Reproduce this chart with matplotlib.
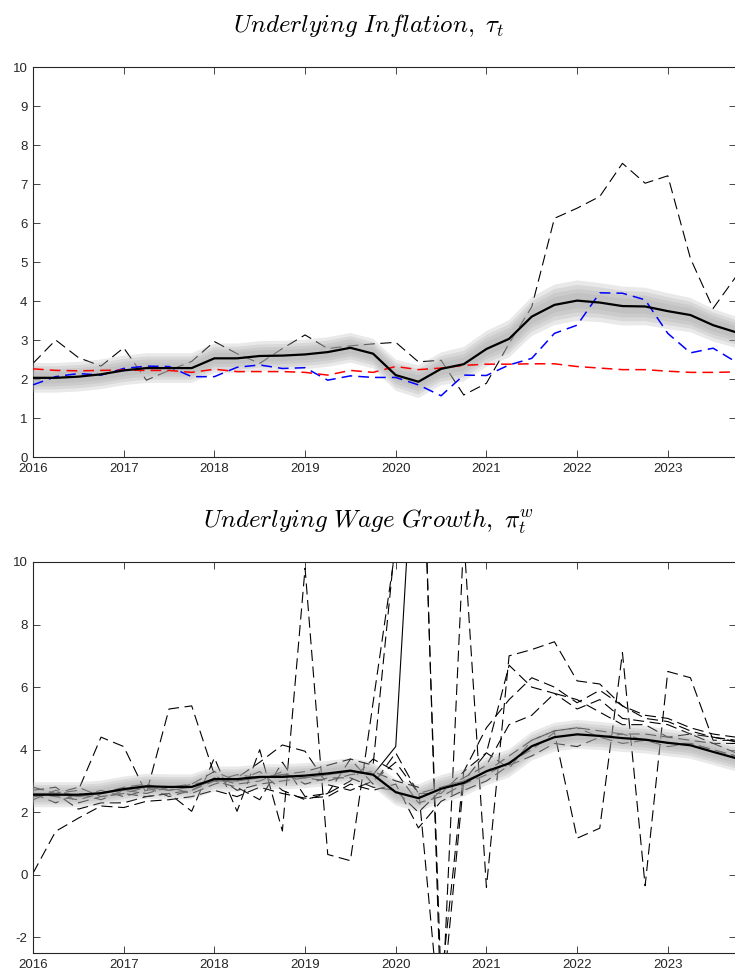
import numpy as np
import matplotlib
matplotlib.use("Agg")
import matplotlib.pyplot as plt

# ---------------- data ----------------
quarters = 2016 + np.arange(32) * 0.25
year_ticks = [2016, 2017, 2018, 2019, 2020, 2021, 2022, 2023]

# Top panel: underlying inflation
tau_median = [2.03, 2.03, 2.06, 2.12, 2.22, 2.28, 2.28, 2.28, 2.53, 2.53, 2.59, 2.60,
              2.63, 2.69, 2.80, 2.65, 2.10, 1.93, 2.26, 2.38, 2.77, 3.03, 3.60, 3.90,
              4.01, 3.96, 3.87, 3.86, 3.74, 3.64, 3.38, 3.20]
tau_spread = [0.38, 0.38, 0.38, 0.38, 0.38, 0.38, 0.38, 0.38, 0.38, 0.38, 0.38, 0.38,
              0.38, 0.38, 0.38, 0.38, 0.40, 0.42, 0.42, 0.44, 0.46, 0.48, 0.50, 0.52,
              0.52, 0.50, 0.50, 0.48, 0.46, 0.44, 0.42, 0.40]
headline_infl = [2.40, 3.00, 2.55, 2.33, 2.80, 1.97, 2.22, 2.45, 2.96, 2.65, 2.40, 2.78,
                 3.13, 2.78, 2.85, 2.90, 2.94, 2.44, 2.48, 1.59, 1.89, 2.91, 3.85, 6.12,
                 6.38, 6.68, 7.53, 7.02, 7.21, 5.09, 3.81, 4.62]
core_infl = [1.85, 2.06, 2.14, 2.10, 2.27, 2.33, 2.32, 2.06, 2.06, 2.30, 2.36, 2.27,
             2.29, 1.97, 2.08, 2.04, 2.04, 1.85, 1.57, 2.10, 2.09, 2.36, 2.53, 3.17,
             3.38, 4.21, 4.20, 4.03, 3.17, 2.67, 2.79, 2.44]
expect_infl = [2.26, 2.22, 2.21, 2.22, 2.23, 2.22, 2.22, 2.17, 2.25, 2.19, 2.19, 2.19,
               2.17, 2.10, 2.22, 2.17, 2.32, 2.24, 2.28, 2.35, 2.38, 2.38, 2.39, 2.39,
               2.32, 2.28, 2.24, 2.24, 2.20, 2.17, 2.17, 2.18]

# Bottom panel: underlying wage growth
wage_median = [2.56, 2.56, 2.56, 2.61, 2.74, 2.83, 2.81, 2.81, 3.06, 3.06, 3.13, 3.13,
               3.17, 3.24, 3.33, 3.20, 2.64, 2.45, 2.75, 2.94, 3.31, 3.56, 4.11, 4.40,
               4.49, 4.44, 4.37, 4.32, 4.22, 4.14, 3.93, 3.73]
wage_spread = [0.40, 0.40, 0.40, 0.40, 0.40, 0.40, 0.40, 0.40, 0.40, 0.40, 0.40, 0.40,
               0.40, 0.40, 0.40, 0.40, 0.42, 0.44, 0.44, 0.44, 0.45, 0.45, 0.46, 0.46,
               0.46, 0.45, 0.44, 0.44, 0.43, 0.43, 0.42, 0.42]
wage_s1 = [2.70, 2.80, 2.30, 2.50, 2.60, 2.50, 2.60, 2.03, 3.74, 2.03, 4.00, 1.40,
           9.80, 0.65, 0.45, 5.50, 10.5, 18.0, -3.5, 3.30, 3.90, 3.40, 4.30, 4.60,
           4.70, 4.60, 4.50, 4.50, 4.40, 4.30, 4.20, 3.90]
wage_s2 = [2.50, 2.60, 2.70, 4.40, 4.10, 2.60, 5.30, 5.40, 3.20, 2.70, 2.90, 3.00,
           3.10, 3.00, 3.20, 3.30, 3.00, 2.80, -5.0, 10.8, -0.40, 7.00, 7.20, 7.45,
           6.20, 6.10, 5.40, 5.00, 4.90, 4.60, 4.40, 4.25]
wage_s3 = [2.60, 2.50, 2.40, 2.60, 2.80, 2.90, 2.70, 2.90, 3.00, 3.20, 3.10, 3.20,
           3.30, 3.50, 3.70, 3.50, 10.8, 19.0, -4.5, 3.00, 3.30, 3.80, 4.30, 4.60,
           4.70, 4.40, 4.50, 4.30, 4.20, 4.20, 4.00, 3.80]
wage_s4 = [0.05, 1.39, 1.81, 2.20, 2.15, 2.35, 2.40, 2.50, 2.70, 2.50, 2.80, 2.60,
           2.45, 2.50, 2.90, 2.70, 2.90, 1.50, 2.35, 2.70, 3.00, 3.50, 3.80, 4.20,
           4.10, 4.40, 4.20, 4.30, 4.10, 4.20, 4.00, 3.80]
wage_s5 = [2.80, 2.60, 2.10, 2.30, 2.30, 2.50, 2.60, 2.70, 3.00, 2.80, 2.40, 3.60,
           2.50, 2.60, 3.00, 3.70, 3.30, 2.30, 2.50, 2.90, 3.20, 3.60, 4.00, 4.55,
           1.17, 1.49, 7.10, -0.35, 6.50, 6.30, 4.30, 4.30]
wage_s6 = [2.40, 2.70, 2.50, 2.70, 2.50, 2.70, 2.80, 2.60, 2.90, 3.10, 3.60, 4.15,
           3.95, 2.88, 2.70, 3.00, 3.60, 2.60, 2.60, 3.30, 4.70, 5.60, 6.30, 6.00,
           5.50, 5.90, 5.40, 5.10, 5.00, 4.70, 4.50, 4.40]
wage_s7 = [2.60, 2.30, 2.60, 2.40, 2.70, 2.60, 2.80, 2.90, 3.30, 3.00, 3.30, 2.70,
           2.40, 2.60, 3.70, 2.90, 3.90, 2.60, 2.80, 3.00, 3.90, 6.70, 6.00, 5.80,
           5.30, 5.60, 5.00, 4.90, 4.80, 4.50, 4.40, 4.30]
wage_s8 = [2.50, 2.60, 2.80, 2.50, 2.60, 2.80, 2.50, 2.70, 3.10, 2.90, 3.00, 3.30,
           2.90, 3.10, 3.10, 2.80, 2.70, 2.00, 2.70, 3.10, 3.50, 4.80, 5.10, 5.80,
           5.60, 5.20, 4.80, 4.80, 4.40, 4.50, 4.20, 4.20]
wage_solid = [2.60, 2.60, 2.50, 2.60, 2.70, 2.80, 2.70, 2.80, 3.00, 3.00, 3.10, 3.20,
              3.10, 3.20, 3.30, 3.20, 4.10, 16.5] + [np.nan] * 14

band_levels = [1.0, 0.78, 0.58, 0.38]

# ---------------- figure ----------------
plt.rcParams['font.family'] = ['Liberation Sans', 'DejaVu Sans']
plt.rcParams['mathtext.fontset'] = 'cm'

W, H = 735, 977
fig = plt.figure(figsize=(W / 100, H / 100), dpi=100)

def frac_box(left, top, right, bottom):
    return [left / W, 1 - bottom / H, (right - left) / W, (bottom - top) / H]

ax1 = fig.add_axes(frac_box(33, 67, 735.8, 457))
ax2 = fig.add_axes(frac_box(33, 562, 735.8, 953))

axcol = '#262626'

def style(ax, ylim, yticks):
    ax.set_xlim(2016, 2023.75)
    ax.set_ylim(*ylim)
    ax.set_xticks(year_ticks)
    ax.set_xticklabels([str(y) for y in year_ticks])
    ax.set_yticks(yticks)
    ax.set_yticklabels([str(v) for v in yticks])
    ax.tick_params(direction='in', length=5, width=0.6, colors=axcol,
                   labelsize=9.5, top=True, right=True, pad=4)
    for s in ax.spines.values():
        s.set_color(axcol)
        s.set_linewidth(0.8)

def draw_bands(ax, med, spread):
    med = np.asarray(med)
    spread = np.asarray(spread)
    for f in band_levels:
        ax.fill_between(quarters, med - f * spread, med + f * spread,
                        facecolor='0.66', alpha=0.25, linewidth=0, zorder=3)

# top panel
ax1.plot(quarters, headline_infl, color='k', lw=0.8, dashes=(10, 5), zorder=2)
draw_bands(ax1, tau_median, tau_spread)
ax1.plot(quarters, core_infl, color='#0000ff', lw=1.1, dashes=(7, 4), zorder=4)
ax1.plot(quarters, expect_infl, color='#ff0000', lw=1.1, dashes=(7, 4), zorder=4)
ax1.plot(quarters, tau_median, color='k', lw=1.6, zorder=5)
style(ax1, (0, 10), list(range(0, 11)))

# bottom panel
for s in [wage_s1, wage_s2, wage_s3, wage_s4, wage_s5, wage_s6, wage_s7, wage_s8]:
    ax2.plot(quarters, s, color='k', lw=0.8, dashes=(10, 5), zorder=2)
ax2.plot(quarters, wage_solid, color='k', lw=0.8, zorder=2)
draw_bands(ax2, wage_median, wage_spread)
ax2.plot(quarters, wage_median, color='k', lw=1.6, zorder=5)
style(ax2, (-2.5, 10), [-2, 0, 2, 4, 6, 8, 10])

fig.text(369 / W, 1 - 32 / H, r'$Underlying\ Inflation,\ \tau_t$',
         ha='center', va='baseline', fontsize=18, color='k')
fig.text(369 / W, 1 - 528 / H, r'$Underlying\ Wage\ Growth,\ \pi^w_t$',
         ha='center', va='baseline', fontsize=18, color='k')

fig.savefig('out.png', dpi=100)
